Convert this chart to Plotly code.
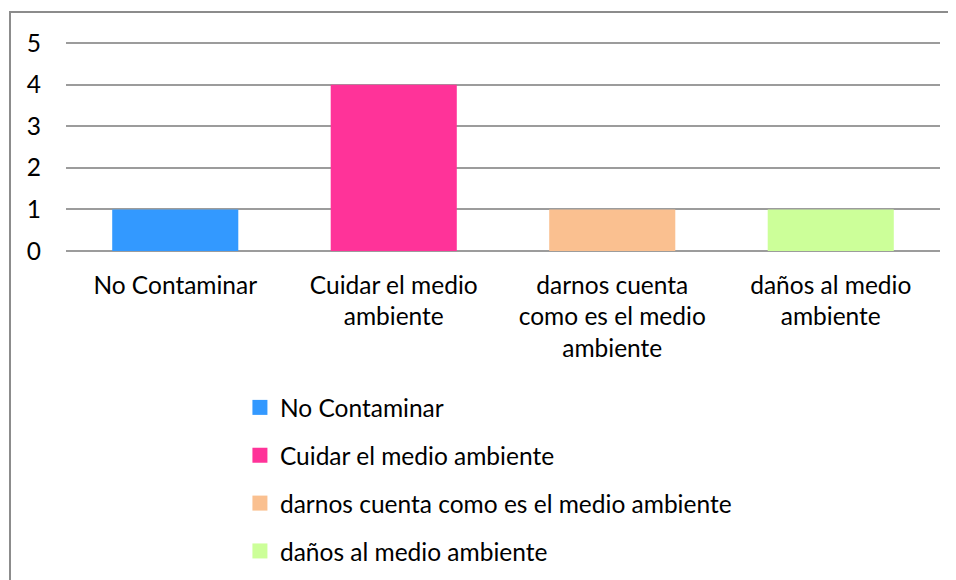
import plotly.graph_objects as go

categories = ["No Contaminar", "Cuidar el medio ambiente",
              "darnos cuenta como es el medio ambiente", "daños al medio ambiente"]
tick_labels = ["No Contaminar", "Cuidar el medio<br>ambiente",
               "darnos cuenta<br>como es el medio<br>ambiente", "daños al medio<br>ambiente"]
values = [1, 4, 1, 1]
colors = ["#3399FF", "#FF3399", "#FAC090", "#CCFF99"]

FONT = "Lato"

# page body adds an 8px margin, so the figure is drawn 8px smaller
W, H = 948, 572
L, T, R, B = 58, 34, 16, 329
PW, PH = W - L - R, H - T - B

fig = go.Figure()

for i, cat in enumerate(categories):
    fig.add_trace(
        go.Bar(
            x=[cat],
            y=[values[i]],
            name=cat,
            marker={"color": colors[i], "line": {"width": 0}},
            width=0.577,
            showlegend=False,
        )
    )
    # legend entry with a bigger square
    fig.add_trace(
        go.Scatter(
            x=[None],
            y=[None],
            mode="markers",
            name=cat,
            legendgroup=cat,
            marker={"symbol": "square", "size": 15, "color": colors[i]},
        )
    )

fig.update_layout(
    {
        "width": W,
        "height": H,
        "margin": {"l": L, "r": R, "t": T, "b": B, "autoexpand": False},
        "paper_bgcolor": "white",
        "plot_bgcolor": "white",
        "barmode": "overlay",
        "font": {"family": FONT, "size": 24.5, "color": "#000000"},
        "xaxis": {
            "tickmode": "array",
            "tickvals": categories,
            "ticktext": tick_labels,
            "showgrid": False,
            "showline": False,
            "ticks": "",
            "ticklabelstandoff": 17,
            "tickangle": 0,
            "automargin": False,
        },
        "yaxis": {
            "range": [0, 5.03],
            "tickvals": [0, 1, 2, 3, 4, 5],
            "showgrid": True,
            "gridcolor": "#9c9c9c",
            "gridwidth": 1.5,
            "zeroline": True,
            "zerolinecolor": "#9c9c9c",
            "zerolinewidth": 1.5,
            "showline": False,
            "ticks": "",
            "ticklabelstandoff": 24,
            "automargin": False,
        },
        "legend": {
            "orientation": "v",
            "x": 0.199,
            "xanchor": "left",
            "y": -0.641,
            "yanchor": "top",
            "itemwidth": 30,
            "tracegroupgap": 13,
            "font": {"family": FONT, "size": 24.5},
            "bgcolor": "rgba(0,0,0,0)",
        },
        "shapes": [
            {
                "type": "rect",
                "xref": "paper",
                "yref": "paper",
                "x0": (2 - L) / PW,
                "x1": (970 - L) / PW,
                "y0": -(620 - T - PH) / PH,
                "y1": (T + PH - 4) / PH,
                "line": {"color": "#8c8c8c", "width": 2},
                "layer": "below",
            }
        ],
    }
)

fig.write_html("out.html")
